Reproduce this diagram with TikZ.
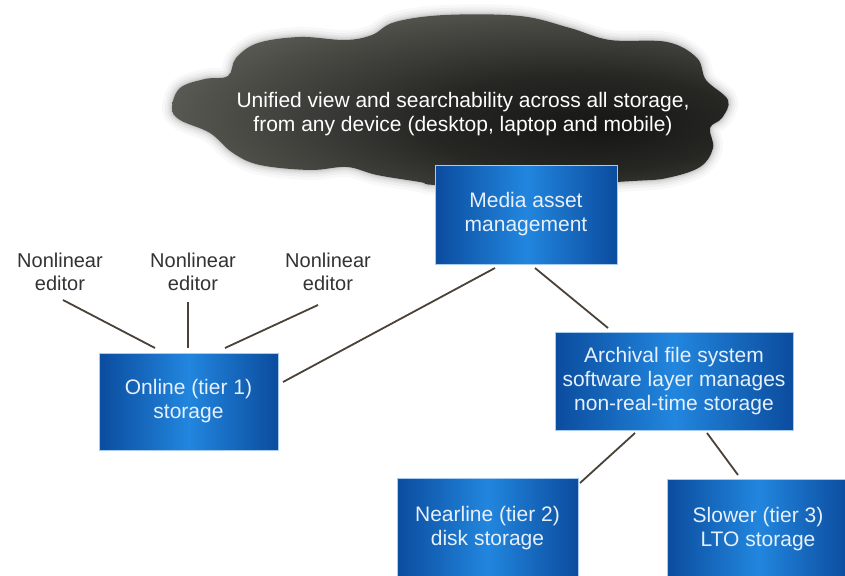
\documentclass[tikz,border=0pt]{standalone}
\usepackage{fontspec}
\setmainfont{Liberation Sans}
\usetikzlibrary{calc}
\definecolor{boxdark}{HTML}{0B4C9E}
\definecolor{boxlight}{HTML}{2286DE}
\definecolor{boxedge}{HTML}{A6CDEE}
\definecolor{linec}{HTML}{4A4238}
\definecolor{boxtext}{HTML}{E6F0FA}
\definecolor{cl0}{HTML}{161614}
\definecolor{cl1}{HTML}{262623}
\definecolor{cl2}{HTML}{4A4A45}
\definecolor{cl3}{HTML}{76766E}
\definecolor{cl4}{HTML}{9A9A92}
\pgfdeclareradialshading{cloudsh}{\pgfpoint{14bp}{-8bp}}{color(0bp)=(cl0); color(14bp)=(cl1); color(28bp)=(cl2); color(44bp)=(cl3); color(62bp)=(cl4); color(80bp)=(cl4)}
\begin{document}
\begin{tikzpicture}[x=1pt,y=-1pt,
  bluebox/.style={rectangle, draw=boxedge, line width=0.8pt, left color=boxdark, right color=boxdark, middle color=boxlight, text=boxtext, align=center, font=\fontsize{21}{24}\selectfont, inner sep=0pt},
  conn/.style={draw=linec, line width=1.8pt},
  lbl/.style={align=center, font=\fontsize{20}{23}\selectfont, text=black!80}]
\clip (0,0) rectangle (845,575);
\fill[white] (0,0) rectangle (845,575);
% cloud
\path[save path=\cloudP] plot[smooth cycle, tension=0.6] coordinates {
 (172,108) (180,88) (205,79) (228,76) (236,58) (258,43) (300,37) (345,40) (372,35) (395,22) (445,15) (520,16) (570,28) (610,40) (667,42) (697,58) (706,80) (728,100) (722,118) (710,128) (713,148) (700,167) (667,178) (633,181) (530,186) (437,185) (420,182) (377,175) (347,167) (310,170) (260,165) (233,153) (210,133) (180,120)};
\foreach \w/\o in {20/0.05,14/0.07,9/0.09,5/0.12,2/0.16}
  \draw[use path=\cloudP, line width=\w pt, draw=black!50, opacity=\o, line join=round];
\shade[shading=cloudsh] plot[smooth cycle, tension=0.6] coordinates {
 (172,108) (180,88) (205,79) (228,76) (236,58) (258,43) (300,37) (345,40) (372,35) (395,22) (445,15) (520,16) (570,28) (610,40) (667,42) (697,58) (706,80) (728,100) (722,118) (710,128) (713,148) (700,167) (667,178) (633,181) (530,186) (437,185) (420,182) (377,175) (347,167) (310,170) (260,165) (233,153) (210,133) (180,120)};
\node[text=white, align=center, font=\fontsize{21}{24.5}\selectfont] (cloud) at (463,114)
  {Unified view and searchability across all storage,\\from any device (desktop, laptop and mobile)};
% boxes
\node[bluebox, minimum width=182pt, minimum height=99pt] (mam) at (526,214.5) {Media asset\\management};
\node[bluebox, minimum width=179pt, minimum height=97pt] (online) at (188.5,401.5) {Online (tier 1)\\storage};
\node[bluebox, minimum width=238pt, minimum height=98pt] (arch) at (674,381) {Archival file system\\software layer manages\\non-real-time storage};
\node[bluebox, minimum width=181pt, minimum height=100pt] (near) at (487.5,528) {Nearline (tier 2)\\disk storage};
\node[bluebox, minimum width=182pt, minimum height=100pt] (slow) at (758,529.5) {Slower (tier 3)\\LTO storage};
% editors
\node[lbl] (ed1) at (60,272) {Nonlinear\\editor};
\node[lbl] (ed2) at (193,272) {Nonlinear\\editor};
\node[lbl] (ed3) at (328,272) {Nonlinear\\editor};
% connectors
\draw[conn] ($(ed1)+(3,28)$) -- ($(online)+(-33.5,-53.5)$);
\draw[conn] ($(ed2)+(-5,30)$) -- ($(online)+(-0.5,-53.5)$);
\draw[conn] ($(ed3)+(-10,33)$) -- ($(online)+(36.5,-53.5)$);
\draw[conn] ($(online)+(94.5,-19.5)$) -- ($(mam)+(-31,53.5)$);
\draw[conn] ($(mam)+(9,53.5)$) -- ($(arch)+(-66,-53)$);
\draw[conn] ($(arch)+(-39,52)$) -- ($(near)+(92.5,-45)$);
\draw[conn] ($(arch)+(33,52)$) -- ($(slow)+(-20,-54.5)$);
\end{tikzpicture}
\end{document}
